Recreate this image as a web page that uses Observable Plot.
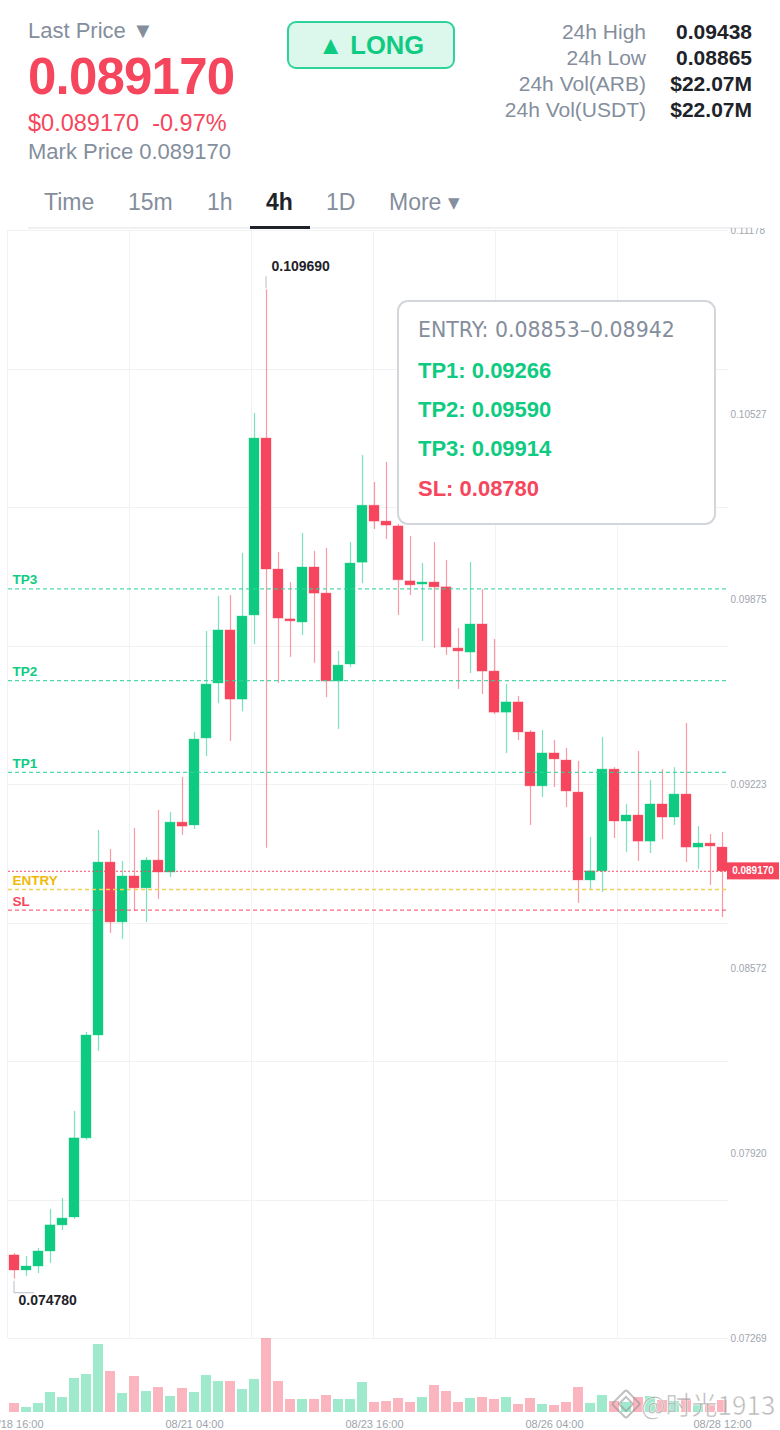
<!DOCTYPE html>
<html>
<head>
<meta charset="utf-8">
<script src="https://cdn.jsdelivr.net/npm/d3@7"></script>
<script src="https://cdn.jsdelivr.net/npm/@observablehq/plot@0.6"></script>
<style>
  html,body{margin:0;padding:0;background:#fff;}
  body{width:780px;height:1430px;position:relative;overflow:hidden;font-family:"Liberation Sans",Arial,sans-serif;}
  .a{position:absolute;white-space:nowrap;}
  #priceWrap{position:absolute;left:0;top:228px;width:780px;height:1125px;overflow:hidden;}
  #volWrap{position:absolute;left:0;top:1338px;width:780px;height:92px;overflow:hidden;}
  #priceWrap svg,#volWrap svg{display:block;background:transparent;}
</style>
</head>
<body>
<div id="header"></div>
<div id="priceWrap"></div>
<div id="volWrap"></div>
<div id="info"></div>
<div id="wm"></div>
<script>
// ---------------- data ----------------
const opens  = [0.07562,0.07509,0.07523,0.07576,0.07668,0.07696,0.07975,0.08338,0.08948,0.08737,
                0.08899,0.08857,0.08955,0.08913,0.09089,0.09079,0.09386,0.09580,0.09767,0.09523,
                0.09820,0.10444,0.09982,0.09806,0.09795,0.09989,0.09897,0.09587,0.09647,0.10006,
                0.10207,0.10151,0.10134,0.09940,0.09929,0.09936,0.09919,0.09703,0.09689,0.09788,
                0.09622,0.09477,0.09513,0.09407,0.09217,0.09333,0.09308,0.09195,0.08885,0.08917,
                0.09276,0.09093,0.09114,0.09022,0.09153,0.09107,0.09188,0.09001,0.09015,0.09001];
const highs  = [0.07569,0.07558,0.07587,0.07724,0.07763,0.08070,0.08349,0.09061,0.08994,0.08952,
                0.09068,0.08966,0.09132,0.09125,0.09248,0.09407,0.09763,0.09887,0.09890,0.10039,
                0.10532,0.10969,0.10042,0.09936,0.10109,0.10046,0.10056,0.09693,0.10077,0.10384,
                0.10289,0.10360,0.10141,0.10098,0.10003,0.10077,0.10014,0.09774,0.10007,0.09911,
                0.09735,0.09576,0.09534,0.09414,0.09414,0.09379,0.09351,0.09305,0.09037,0.09389,
                0.09283,0.09153,0.09340,0.09238,0.09276,0.09283,0.09439,0.09075,0.09047,0.09054];
const lows   = [0.07478,0.07488,0.07498,0.07534,0.07650,0.07689,0.07968,0.08282,0.08698,0.08677,
                0.08775,0.08737,0.08818,0.08895,0.09044,0.09065,0.09322,0.09509,0.09375,0.09480,
                0.09717,0.08999,0.09580,0.09672,0.09749,0.09651,0.09530,0.09418,0.09636,0.09932,
                0.10123,0.10088,0.09820,0.09890,0.09728,0.09703,0.09679,0.09559,0.09615,0.09541,
                0.09470,0.09333,0.09379,0.09079,0.09178,0.09213,0.09142,0.08804,0.08850,0.08843,
                0.09033,0.08984,0.08952,0.08980,0.09029,0.09079,0.08948,0.08924,0.08867,0.08754];
const closes = [0.07509,0.07523,0.07576,0.07668,0.07692,0.07975,0.08338,0.08948,0.08737,0.08899,
                0.08857,0.08955,0.08913,0.09089,0.09075,0.09382,0.09576,0.09767,0.09523,0.09816,
                0.10444,0.09982,0.09809,0.09799,0.09989,0.09897,0.09587,0.09643,0.10003,0.10207,
                0.10151,0.10137,0.09944,0.09926,0.09936,0.09919,0.09707,0.09693,0.09788,0.09622,
                0.09477,0.09513,0.09407,0.09217,0.09333,0.09312,0.09199,0.08885,0.08917,0.09276,
                0.09093,0.09114,0.09022,0.09153,0.09107,0.09188,0.09001,0.09015,0.09005,0.08917];
const volumes = [3.6,2.0,3.6,8.0,6.0,13.6,15.2,27.2,16.4,7.6,
                 14.4,8.4,10.0,6.4,9.6,8.0,14.8,12.4,12.4,9.2,
                 13.2,29.6,12.4,5.2,5.2,5.2,6.8,5.2,5.2,12.0,
                 4.0,4.4,5.6,4.0,6.0,10.8,8.4,4.0,5.6,6.0,
                 5.2,6.0,3.2,5.6,3.2,2.8,4.0,10.0,3.6,6.8,
                 4.4,4.0,6.0,6.4,4.8,4.4,5.2,3.2,3.2,4.8];

const priceTicks  = [0.07269,0.07920,0.08572,0.09223,0.09875,0.10527,0.11178];
const xTickIdx    = [0,15,30,45,59];
const xTickLabels = ["08/18 16:00","08/21 04:00","08/23 16:00","08/26 04:00","08/28 12:00"];

const levelNames  = ["TP3","TP2","TP1","ENTRY","SL"];
const levelPrices = [0.09914,0.09590,0.09266,0.08853,0.08780];
const entryRange  = [0.08853,0.08942];
const lastPrice   = 0.08917;
const changePct   = "-0.97%";

const statLabels = ["24h High","24h Low","24h Vol(ARB)","24h Vol(USDT)"];
const statValues = ["0.09438","0.08865","$22.07M","$22.07M"];
const tabs = ["Time","15m","1h","4h","1D","More ▾"];
const activeTab = "4h";

// ---------------- styles ----------------
const GREEN = "#0ecb81", RED = "#f6465d", YELLOW = "#f0b90b";
const GRAY = "#848e9c", DARK = "#1e2329";
const W = 780, ML = 8, MR = 52;

// ---------------- header (HTML) ----------------
const header = document.getElementById("header");
function put(html, css){ const d=document.createElement("div"); d.className="a"; d.innerHTML=html; Object.assign(d.style,css); header.appendChild(d); return d; }
function lh(fs){ return {fontSize:fs+"px", lineHeight:fs+"px"}; }
put("Last Price ▼", {left:"28px", top:(31-0.5*22)+"px", color:GRAY, ...lh(22)});
put(lastPrice.toFixed(6), {left:"28px", top:(76-0.5*51)+"px", color:RED, fontWeight:"700", letterSpacing:"-0.8px", ...lh(51)});
put("$"+lastPrice.toFixed(6)+"&nbsp;&nbsp;"+changePct, {left:"28px", top:(124-0.5*23.5)+"px", color:RED, ...lh(23.5)});
put("Mark Price "+lastPrice.toFixed(6), {left:"28px", top:(152-0.5*22)+"px", color:GRAY, ...lh(22)});
// LONG badge
put("▲ LONG", {left:"287px", top:"21px", width:"164px", height:"44px", border:"2px solid #2ed39a", borderRadius:"9px",
  background:"#dcf7ec", color:GREEN, fontWeight:"700", fontSize:"25.5px", lineHeight:"44px", textAlign:"center"});
statLabels.forEach((s,k)=>{
  const cy = 31 + k*26;
  put(s, {right:(780-646)+"px", top:(cy-0.5*21)+"px", color:GRAY, ...lh(21)});
  put(statValues[k], {right:(780-752)+"px", top:(cy-0.5*21)+"px", color:DARK, fontWeight:"700", ...lh(21)});
});
const tabX = [44,128,207,266,326,389];
tabs.forEach((t,k)=>{
  const on = t===activeTab;
  put(t, {left:tabX[k]+"px", top:(202-0.5*23)+"px", color:on?DARK:GRAY, fontWeight:on?"700":"400", ...lh(23)});
});
put("", {left:"28px", top:"227px", width:"724px", height:"2px", background:"#eef0f2"});
put("", {left:"250px", top:"226px", width:"60px", height:"3px", background:DARK});

// ---------------- candle table ----------------
const candles = opens.map((o,i)=>({i, open:o, high:highs[i], low:lows[i], close:closes[i], vol:volumes[i], up: closes[i] >= o}));
const hiIdx = d3.maxIndex(highs), loIdx = d3.minIndex(lows);
const levels = levelNames.map((n,k)=>({name:n, price:levelPrices[k]}));
const levelColor = n => n==="ENTRY" ? YELLOW : n==="SL" ? RED : GREEN;

// grid (8 horizontal panes, 6 vertical panes)
function grid(index, scales, values, dim){
  const g = d3.create("svg:g").attr("stroke","#f1f2f4").attr("stroke-width",1);
  const y0 = dim.marginTop, y1 = dim.height - dim.marginBottom;
  const x0 = dim.marginLeft, x1 = dim.width - dim.marginRight;
  for (let k=0;k<=8;k++){ const y = Math.round(y0 + k*(y1-y0)/8)+0.5; g.append("line").attr("x1",x0).attr("x2",x1).attr("y1",y).attr("y2",y); }
  for (let k=0;k<=5;k++){ const x = Math.round(x0 + k*121.9)-0.5; g.append("line").attr("x1",x).attr("x2",x).attr("y1",y0).attr("y2",y1); }
  return g.node();
}
// price tag on the right for the last price
function priceTag(index, scales, values, dim){
  const y = scales.y(lastPrice);
  const x = dim.width - dim.marginRight - 1;
  const g = d3.create("svg:g");
  g.append("rect").attr("x",x).attr("y",y-8.5).attr("width",52).attr("height",17).attr("fill",RED);
  g.append("text").attr("x",x+26).attr("y",y).attr("dy","0.35em").attr("text-anchor","middle")
    .attr("fill","#fff").attr("font-weight","700").attr("font-size",10).text(lastPrice.toFixed(6));
  return g.node();
}
// connectors for high / low annotations
function extremes(index, scales){
  const g = d3.create("svg:g").attr("stroke","#b7bdc6").attr("fill","none").attr("stroke-width",1);
  const hx = scales.x(hiIdx), hy = scales.y(highs[hiIdx]);
  g.append("path").attr("d",`M${hx},${hy-13}V${hy-1}`);
  const lx = scales.x(loIdx), ly = scales.y(lows[loIdx]);
  g.append("path").attr("d",`M${lx},${ly+2}V${ly+14}H${lx+20}`);
  return g.node();
}

const tp = levels.filter(d=>d.name.startsWith("TP"));
const entry = levels.filter(d=>d.name==="ENTRY");
const sl = levels.filter(d=>d.name==="SL");

const pricePlot = Plot.plot({
  width: W, height: 1125, marginTop: 2, marginBottom: 15, marginLeft: ML, marginRight: MR,
  style: {background:"transparent", fontFamily:"'Liberation Sans', Arial, sans-serif", fontSize:"10px", color:"#a0a6ae"},
  x: {domain:[-0.5, opens.length-0.5], axis:null},
  y: {domain:[priceTicks[0], priceTicks[priceTicks.length-1]], ticks: priceTicks, tickFormat: d=>d.toFixed(5),
      axis:"right", tickSize:0, tickPadding:2, label:null},
  marks: [
    grid,
    Plot.ruleX(candles, {x:"i", y1:"low", y2:"high", stroke: d=>d.up?GREEN:RED, strokeOpacity:0.55, strokeWidth:1.2}),
    Plot.rect(candles, {x1: d=>d.i-0.5, x2: d=>d.i+0.5, y1:"open", y2:"close", fill: d=>d.up?GREEN:RED,
      stroke: d=>d.up?GREEN:RED, strokeOpacity:0.35, strokeWidth:1, insetLeft:1, insetRight:1}),
    Plot.ruleY(tp, {y:"price", stroke:"#2fd39b", strokeOpacity:0.85, strokeDasharray:"4,3", strokeWidth:1.2}),
    Plot.ruleY([lastPrice], {stroke:RED, strokeOpacity:0.75, strokeDasharray:"2,2", strokeWidth:1.2}),
    Plot.ruleY(entry, {y:"price", stroke:"#f3cf5a", strokeDasharray:"4,3", strokeWidth:1.5}),
    Plot.ruleY(sl, {y:"price", stroke:RED, strokeOpacity:0.8, strokeDasharray:"4,3", strokeWidth:1.2}),
    Plot.text(levels, {y:"price", text:"name", frameAnchor:"left", dx:4, dy:-9, textAnchor:"start",
      fill: d=>levelColor(d.name), fontWeight:"bold", fontSize:13.5}),
    extremes,
    Plot.text([hiIdx], {x: d=>d, y: d=>highs[d], text: d=>highs[d].toFixed(6), dx:5, dy:-23, textAnchor:"start",
      fill:DARK, fontWeight:"bold", fontSize:14}),
    Plot.text([loIdx], {x: d=>d, y: d=>lows[d], text: d=>lows[d].toFixed(6), dx:4, dy:21, textAnchor:"start",
      fill:DARK, fontWeight:"bold", fontSize:14}),
    priceTag
  ]
});
document.getElementById("priceWrap").appendChild(pricePlot);

const volPlot = Plot.plot({
  width: W, height: 92, marginTop: 0, marginBottom: 18, marginLeft: ML, marginRight: MR,
  style: {background:"transparent", fontFamily:"'Liberation Sans', Arial, sans-serif", fontSize:"11px", color:"#9ea4ac"},
  x: {domain:[-0.5, opens.length-0.5], ticks: xTickIdx, tickFormat: i => xTickLabels[xTickIdx.indexOf(i)],
      tickSize:0, tickPadding:8, label:null},
  y: {domain:[0, d3.max(volumes)], axis:null},
  marks: [
    Plot.rectY(candles, {x1: d=>d.i-0.5, x2: d=>d.i+0.5, y:"vol", fill: d=>d.up?GREEN:RED, fillOpacity:0.4, insetLeft:1, insetRight:1})
  ]
});
document.getElementById("volWrap").appendChild(volPlot);

// ---------------- info box (HTML) ----------------
const info = document.getElementById("info");
Object.assign(info.style, {position:"absolute", left:"397px", top:"300px", width:"315px", height:"221px",
  border:"2px solid #d3d7dc", borderRadius:"11px", background:"#fff"});
const infoLines = [
  {t:`ENTRY: ${entryRange[0].toFixed(5)}–${entryRange[1].toFixed(5)}`, c:GRAY, w:"400", f:"'DejaVu Sans', sans-serif", fs:20.5, cy:30},
  ...["TP1","TP2","TP3","SL"].map((n,k)=>({t:`${n}: ${levelPrices[levelNames.indexOf(n)].toFixed(5)}`,
     c: n==="SL"?RED:GREEN, w:"700", f:"'Liberation Sans', Arial, sans-serif", fs:22, cy:[71,110,149,189][k]}))
];
infoLines.forEach(l=>{
  const d=document.createElement("div"); d.className="a";
  Object.assign(d.style,{left:"19px", top:(l.cy-2-11)+"px", fontSize:l.fs+"px", lineHeight:"22px", color:l.c, fontWeight:l.w, fontFamily:l.f});
  d.textContent=l.t; info.appendChild(d);
});

// ---------------- watermark ----------------
const wm = document.getElementById("wm");
wm.innerHTML = '<div class="a" style="left:615px;top:1393px;width:18px;height:18px;transform:rotate(45deg);border:2px solid rgba(150,150,150,0.6);border-radius:3px"></div>'+
  '<div class="a" style="left:620px;top:1398px;width:8px;height:8px;transform:rotate(45deg);border:2px solid rgba(150,150,150,0.6)"></div>'+
  '<div class="a" style="left:641px;top:1390px;font-family:\'Noto Sans CJK SC\',\'Noto Sans\',sans-serif;font-size:26px;line-height:28px;color:rgba(140,140,140,0.6);-webkit-text-stroke:0.6px rgba(255,255,255,0.85)">@时光1913</div>';
</script>
</body>
</html>
